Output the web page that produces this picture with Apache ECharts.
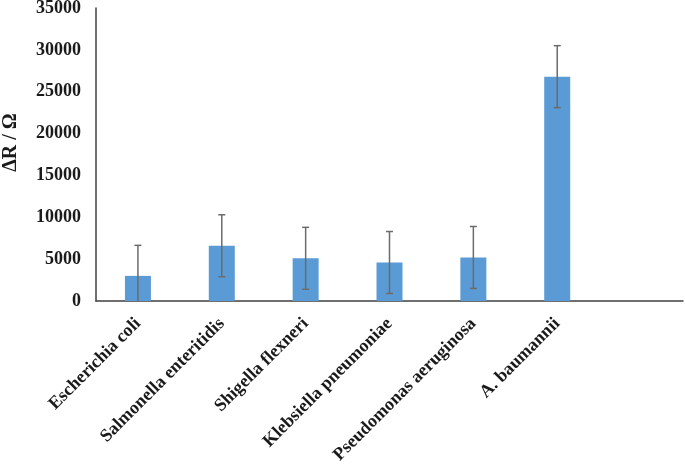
<!DOCTYPE html>
<html>
<head>
<meta charset="utf-8">
<script src="https://cdn.jsdelivr.net/npm/echarts@6/dist/echarts.min.js"></script>
<style>html,body{margin:0;padding:0;background:#fff}#c{width:685px;height:464px}</style>
</head>
<body>
<div id="c"></div>
<script>
const categories = ['Escherichia coli', 'Salmonella enteritidis', 'Shigella flexneri', 'Klebsiella pneumoniae', 'Pseudomonas aeruginosa', 'A. baumannii', ''];
const values = [3000, 6600, 5100, 4600, 5200, 26800];
const errors = [3650, 3700, 3700, 3700, 3700, 3700];
const yTicks = [0, 5000, 10000, 15000, 20000, 25000, 30000, 35000];

const errData = values.map((v, i) => [i, v, errors[i]]);
const font = 'Liberation Serif';
const chart = echarts.init(document.getElementById('c'));
chart.setOption({
  animation: false,
  grid: {left: 96, right: 2, top: 8, bottom: 163, containLabel: false, outerBoundsMode: 'none'},
  xAxis: {
    type: 'category', data: categories,
    axisLine: {lineStyle: {color: '#404040', width: 1.5}},
    axisTick: {show: false},
    axisLabel: {interval: 0, rotate: 45, margin: 20, color: '#1a1a1a', fontFamily: font, fontWeight: 'bold', fontSize: 18}
  },
  yAxis: {
    type: 'value', min: yTicks[0], max: yTicks[yTicks.length - 1], interval: 5000,
    name: 'ΔR / Ω', nameLocation: 'middle', nameGap: 75, nameRotate: 90,
    nameTextStyle: {color: '#1a1a1a', fontFamily: font, fontWeight: 'bold', fontSize: 20, padding: [0, 0, 0, 24]},
    axisLine: {show: true, lineStyle: {color: '#404040', width: 1.5}},
    axisTick: {show: false},
    splitLine: {show: false},
    axisLabel: {margin: 15, color: '#1a1a1a', fontFamily: font, fontWeight: 'bold', fontSize: 18, formatter: v => String(v)}
  },
  series: [
    {type: 'bar', data: values, barWidth: 26, itemStyle: {color: '#5B9BD5'}},
    {
      type: 'custom', data: errData, z: 10,
      renderItem: function (params, api) {
        const x = api.value(0), v = api.value(1), e = api.value(2);
        const hi = api.coord([x, v + e]);
        const lowVal = v - e;
        const lo = api.coord([x, Math.max(0, lowVal)]);
        const cw = 3.5;
        const style = {stroke: '#6b6b6b', lineWidth: 1.5};
        const children = [
          {type: 'line', shape: {x1: hi[0], y1: hi[1], x2: lo[0], y2: lo[1]}, style: style},
          {type: 'line', shape: {x1: hi[0] - cw, y1: hi[1], x2: hi[0] + cw, y2: hi[1]}, style: style}
        ];
        if (lowVal > 0) children.push({type: 'line', shape: {x1: lo[0] - cw, y1: lo[1], x2: lo[0] + cw, y2: lo[1]}, style: style});
        return {type: 'group', children: children};
      }
    }
  ]
});
</script>
</body>
</html>
